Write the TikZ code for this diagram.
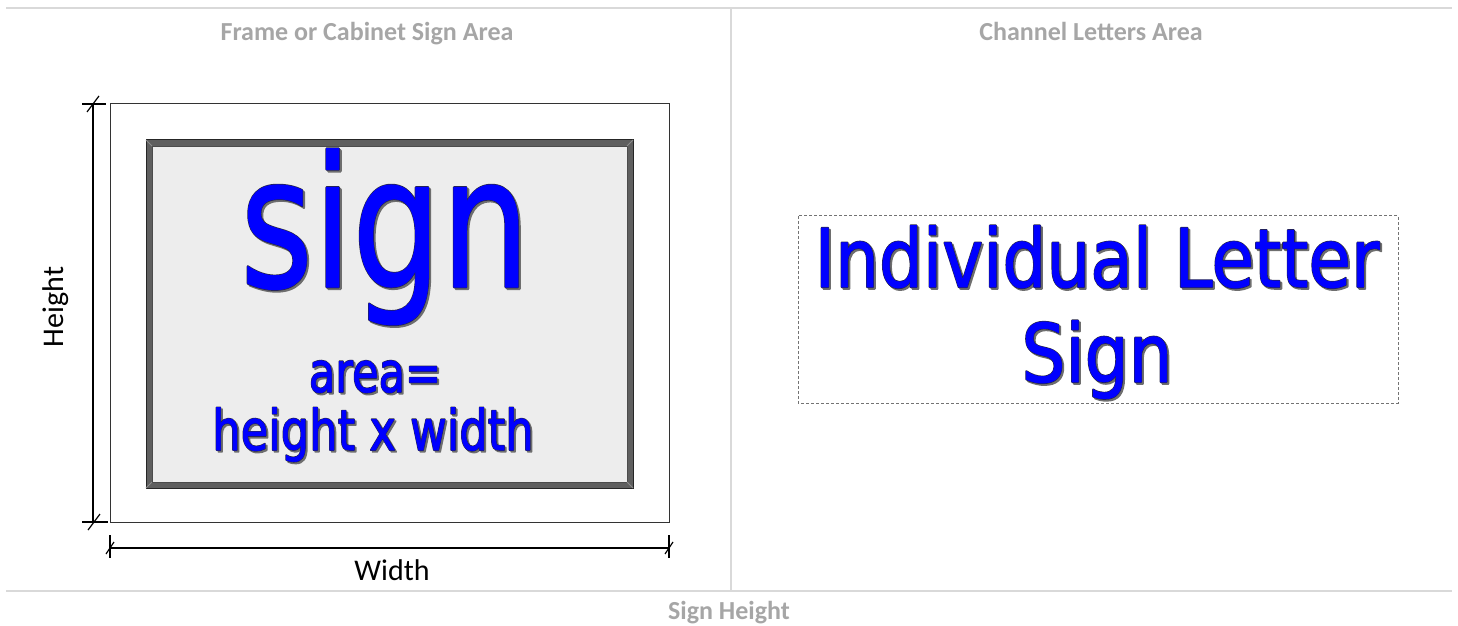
\documentclass[tikz,border=0pt]{standalone}
\usepackage{fontspec}
\setmainfont{Carlito}
\newfontfamily\signfont{DejaVu Sans}
\usetikzlibrary{positioning}
\definecolor{rulegray}{RGB}{217,217,217}
\definecolor{headgray}{RGB}{166,166,166}
\definecolor{framegray}{RGB}{95,95,95}
\definecolor{bevelgray}{RGB}{140,140,140}
\definecolor{panelfill}{RGB}{237,237,237}
\definecolor{signblue}{RGB}{0,0,255}
\definecolor{shadegray}{RGB}{110,110,110}
\definecolor{outlinedark}{RGB}{40,40,70}
% size, x-scale, blue stroke, rim stroke, text
\newcommand{\signglyphs}[5]{%
  \signfont\fontsize{#1}{#1}\selectfont
  \rlap{\hspace{0.9pt}\raisebox{-0.9pt}{\color{shadegray}\special{pdf:code #4 w 1 j 2 Tr}\scalebox{#2}[1]{#5}\special{pdf:code 0 Tr}}}%
  \rlap{\color{outlinedark}\special{pdf:code #4 w 1 j 2 Tr}\scalebox{#2}[1]{#5}\special{pdf:code 0 Tr}}%
  {\color{signblue}\special{pdf:code #3 w 1 j 2 Tr}\scalebox{#2}[1]{#5}\special{pdf:code 0 Tr}}}

\begin{document}
\begin{tikzpicture}[
  x=0.5pt, y=-0.5pt,
  rule/.style={draw=rulegray, line width=1pt},
  head/.style={font=\fontsize{13}{15}\selectfont\bfseries, text=headgray, anchor=base, inner sep=0},
  frameline/.style={draw=black!80, line width=0.5pt},
  dimline/.style={draw=black, line width=0.6pt},
  dimlabel/.style={font=\fontsize{15}{17}\selectfont, inner sep=0},
  signtxt/.style={anchor=base, inner sep=0}
]
\useasboundingbox (0,0) rectangle (1458,626);

% grid rules
\coordinate (tl) at (6,8);
\coordinate (tr) at (1452,8);
\coordinate (bl) at (6,591);
\coordinate (br) at (1452,591);
\coordinate (mt) at (731,8);
\coordinate (mb) at (731,591);
\draw[rule] (tl) -- (tr);
\draw[rule] (bl) -- (br);
\draw[rule] (mt) -- (mb);

% headers
\node[head] (hleft) at (367,41) {Frame or Cabinet Sign Area};
\node[head] (hright) at (1091,41) {Channel Letters Area};
\node[head] (hbottom) at (729,619) {Sign Height};

% outer frame
\coordinate (f1) at (110,104);
\coordinate (f2) at (669,522);
\draw[frameline] (f1) rectangle (f2);

% sign panel with bevelled border
\coordinate (p1) at (146,140);
\coordinate (p2) at (633,488);
\coordinate (q1) at (152,146);
\coordinate (q2) at (627,482);
\fill[framegray] (p1) rectangle (p2);
\draw[black!85, line width=0.5pt] (p1) rectangle (p2);
\fill[panelfill] (q1) rectangle (q2);
\draw[black!70, line width=0.4pt] (q1) rectangle (q2);
\draw[bevelgray, line width=0.4pt] (p1) -- (q1);
\draw[bevelgray, line width=0.4pt] (p2) -- (q2);
\draw[bevelgray, line width=0.4pt] (p1 -| p2) -- (q1 -| q2);
\draw[bevelgray, line width=0.4pt] (p2 -| p1) -- (q2 -| q1);

% panel texts
\node[signtxt] (signword) at (385,287) {\signglyphs{91}{0.77}{0.6}{1.3}{sign}};
\node[signtxt] (areaeq) at (375,392) {\signglyphs{28}{0.77}{0.3}{0.9}{area=}};
\node[signtxt] (formula) at (373,450) {\signglyphs{28}{0.8}{0.3}{0.9}{height x width}};

% height dimension
\coordinate (h1) at (93,104);
\coordinate (h2) at (93,522);
\draw[dimline] (h1) -- (h2);
\draw[dimline] (82,104) -- (106,104);
\draw[dimline] (87,112) -- (99,96);
\draw[dimline] (82,522) -- (108,522);
\draw[dimline] (88,530) -- (100,514);
\node[dimlabel, rotate=90] (hlabel) at (56,307) {Height};

% width dimension
\coordinate (w1) at (110,548);
\coordinate (w2) at (669,548);
\draw[dimline] (w1) -- (w2);
\draw[dimline] (110,535) -- (110,558);
\draw[dimline] (106,554) -- (114,542);
\draw[dimline] (669,535) -- (669,558);
\draw[dimline] (665,554) -- (673,542);
\node[dimlabel] (wlabel) at (392,570) {Width};

% channel letters
\draw[draw=black!55, line width=0.5pt, dash pattern=on 1.5pt off 1pt] (798,216) rectangle (1398,403);
\node[signtxt] (lettertop) at (1097,287) {\signglyphs{40.5}{0.855}{0.35}{1.0}{Individual Letter}};
\node[signtxt] (letterbottom) at (1097,382) {\signglyphs{40.5}{0.855}{0.35}{1.0}{Sign}};
\end{tikzpicture}
\end{document}
